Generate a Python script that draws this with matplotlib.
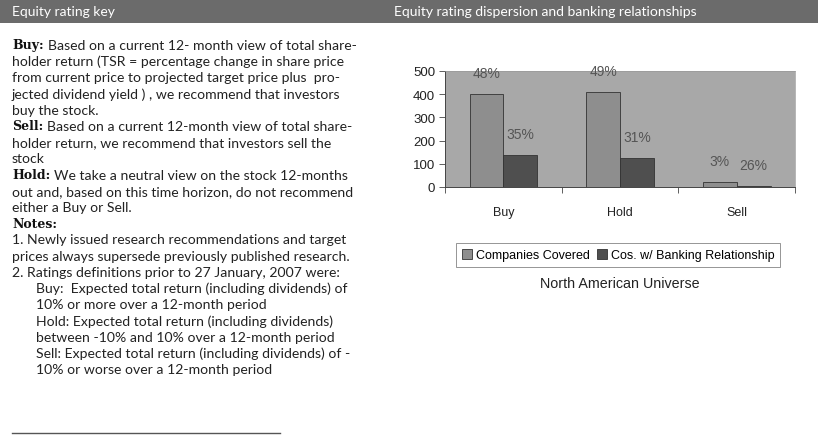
import numpy as np
import matplotlib.pyplot as plt

# chart data
categories = ['Buy', 'Hold', 'Sell']
companies = [400, 410, 22]
banking = [140, 127, 6]
pct_companies = ['48%', '49%', '3%']
pct_banking = ['35%', '31%', '26%']
yticks = [0, 100, 200, 300, 400, 500]

W, H = 823, 439
fig = plt.figure(figsize=(W / 100, H / 100), dpi=100)
fig.patch.set_facecolor('white')

def px(x, y):
    # pixel coords (top-left origin) -> figure fraction
    return x / W, 1 - y / H

# header band
band = plt.Rectangle(px(0, 24), 818 / W, 24 / H, transform=fig.transFigure,
                     facecolor='#6b6b6b', edgecolor='none')
fig.patches.append(band)
fig.text(*px(12, 12), 'Equity rating key', color='white', fontsize=10,
         family='Lato', va='center')
fig.text(*px(394, 12), 'Equity rating dispersion and banking relationships',
         color='white', fontsize=10, family='Lato', va='center')

# left text column
body_font = dict(family='Lato', fontsize=10.1, color='#222222', va='center')
bold_font = dict(family='DejaVu Serif', fontsize=9, weight='bold',
                 color='#111111', va='center')

lines = [
    (12, 'Buy:', 'Based on a current 12- month view of total share-'),
    (12, None, 'holder return (TSR = percentage change in share price'),
    (12, None, 'from current price to projected target price plus  pro-'),
    (12, None, 'jected dividend yield ) , we recommend that investors'),
    (12, None, 'buy the stock.'),
    (12, 'Sell:', 'Based on a current 12-month view of total share-'),
    (12, None, 'holder return, we recommend that investors sell the'),
    (12, None, 'stock'),
    (12, 'Hold:', 'We take a neutral view on the stock 12-months'),
    (12, None, 'out and, based on this time horizon, do not recommend'),
    (12, None, 'either a Buy or Sell.'),
    (12, 'Notes:', ''),
    (12, None, '1. Newly issued research recommendations and target'),
    (12, None, 'prices always supersede previously published research.'),
    (12, None, '2. Ratings definitions prior to 27 January, 2007 were:'),
    (36, None, 'Buy:  Expected total return (including dividends) of'),
    (36, None, '10% or more over a 12-month period'),
    (36, None, 'Hold: Expected total return (including dividends)'),
    (36, None, 'between -10% and 10% over a 12-month period'),
    (36, None, 'Sell: Expected total return (including dividends) of -'),
    (36, None, '10% or worse over a 12-month period'),
]

fig.canvas.draw()
renderer = fig.canvas.get_renderer()
y0, dy = 46, 16.2
for i, (x, head, body) in enumerate(lines):
    y = y0 + i * dy
    if head:
        t = fig.text(*px(x, y), head, **bold_font)
        w = t.get_window_extent(renderer).width
        fig.text(*px(x + w + 4, y), body, **body_font)
    else:
        fig.text(*px(x, y), body, **body_font)

fig.add_artist(plt.Line2D([12 / W, 280 / W], [1 - 434 / H] * 2,
                          transform=fig.transFigure, color='#555555', lw=1))

# bar chart
ax = fig.add_axes([445 / W, 1 - 188 / H, 350 / W, 116 / H])
ax.set_facecolor('#a8a8a8')
x = np.arange(len(categories))
bw = 0.29
b1 = ax.bar(x - bw / 2, companies, bw, color='#8e8e8e', edgecolor='#333333',
            lw=0.6, label='Companies Covered')
b2 = ax.bar(x + bw / 2, banking, bw, color='#4f4f4f', edgecolor='#333333',
            lw=0.6, label='Cos. w/ Banking Relationship')

for bars, labs in ((b1, pct_companies), (b2, pct_banking)):
    for r, lab in zip(bars, labs):
        ax.annotate(lab, (r.get_x() + r.get_width() / 2, r.get_height()),
                    xytext=(0, 15), textcoords='offset points', ha='center',
                    va='center', fontsize=10, family='Liberation Sans',
                    color='#555555', annotation_clip=False)

ax.set_xlim(-0.5, 2.5)
ax.set_ylim(0, 500)
ax.set_yticks(yticks)
ax.set_yticklabels([str(v) for v in yticks], family='Liberation Sans',
                   fontsize=9.5, color='#222222')
ax.tick_params(axis='y', length=4, width=0.6, pad=3, color='#444444')
ax.set_xticks(x)
ax.set_xticklabels(categories, family='Liberation Sans', fontsize=9,
                   color='#222222')
ax.tick_params(axis='x', which='major', length=0, pad=14)
ax.set_xticks([-0.5, 0.5, 1.5, 2.5], minor=True)
ax.tick_params(axis='x', which='minor', length=4, width=0.6, color='#444444')
for s in ['top', 'right']:
    ax.spines[s].set_color('#999999')
    ax.spines[s].set_linewidth(0.5)
for s in ['left', 'bottom']:
    ax.spines[s].set_color('#444444')
    ax.spines[s].set_linewidth(0.7)

leg = fig.legend(handles=[b1, b2], loc='center', bbox_to_anchor=px(618, 256),
                 ncol=2, frameon=True, fancybox=False, edgecolor='#666666',
                 prop={'family': 'Liberation Sans', 'size': 9},
                 handlelength=0.8, handleheight=0.8, handletextpad=0.3,
                 columnspacing=0.6, borderpad=0.45)
leg.get_frame().set_linewidth(0.6)

fig.text(*px(620, 284), 'North American Universe', ha='center', va='center',
         family='Liberation Sans', fontsize=10.3, color='#222222')

fig.savefig('out.png', dpi=100)
